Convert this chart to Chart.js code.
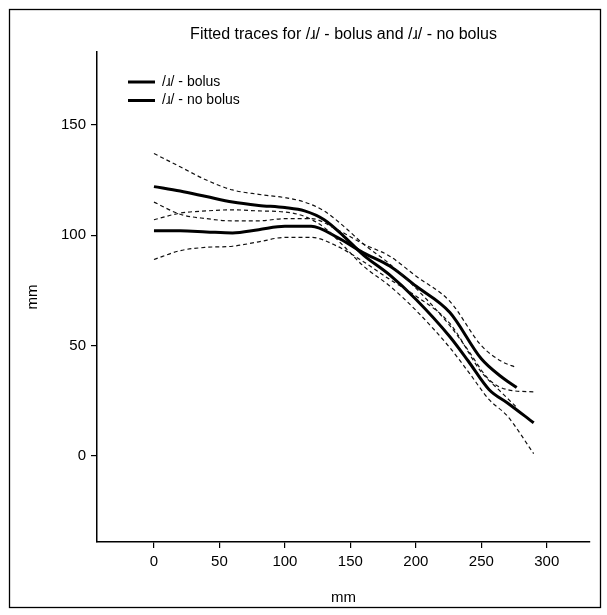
<!DOCTYPE html>
<html>
<head>
<meta charset="utf-8">
<script src="https://cdn.jsdelivr.net/npm/chart.js@4.4.1/dist/chart.umd.min.js"></script>
<style>
  html, body { margin: 0; padding: 0; background: #fff; }
  canvas { display: block; }
</style>
</head>
<body>
<canvas id="traces" width="607" height="615"></canvas>
<script>
// fitted traces (mm)
const xBolus = [0, 20, 40, 60, 80, 100, 115, 130, 145, 160, 180, 200, 226, 240, 256, 270, 290];
const bolusFit = [122, 120, 117.5, 115, 113.5, 112.5, 111, 107, 99.5, 91, 82, 71, 54, 43, 30, 24, 15];
const bolusUpper = [137, 131, 125, 120.5, 118.5, 117, 115, 111, 104, 96, 87, 76, 59, 47.8, 34.5, 30, 29];
const bolusLower = [107, 110, 111, 111.5, 111, 110.5, 108.5, 103.5, 95, 86, 77, 66, 49, 38.2, 25.5, 18, 1];

const xNoBolus = [0, 20, 40, 60, 80, 100, 120, 140, 160, 180, 200, 226, 250, 265, 277];
const noBolusFit = [102, 102, 101.5, 101, 102.5, 104, 104, 99, 92, 86, 77, 65, 44, 36, 31];
const noBolusUpper = [115, 109.5, 107.5, 106.5, 106.5, 107.5, 107.5, 102.5, 96, 90.5, 81.5, 70, 50, 43, 40];
const noBolusLower = [89, 93, 94.5, 95, 97, 99, 99, 95, 88, 80, 72.5, 60, 38, 29, 22];

const xTickValues = [0, 50, 100, 150, 200, 250, 300];
const yTickValues = [0, 50, 100, 150];

const seriesNames = ['/\u0279/ - bolus', '/\u0279/ - no bolus'];
const chartTitle = 'Fitted traces for /\u0279/ - bolus and /\u0279/ - no bolus';

const FONT = '"Liberation Sans", Arial, "DejaVu Sans", sans-serif';

function toPoints(xs, ys) {
    return xs.map((x, i) => ({ x: x, y: ys[i] }));
}

function bandSet(xs, ys) {
    return {
        data: toPoints(xs, ys),
        borderColor: '#111',
        borderWidth: 1.2,
        borderDash: [4, 3],
        pointRadius: 0,
        cubicInterpolationMode: 'monotone',
        fill: false
    };
}

function fitSet(label, xs, ys) {
    return {
        label: label,
        data: toPoints(xs, ys),
        borderColor: '#000',
        borderWidth: 3,
        pointRadius: 0,
        cubicInterpolationMode: 'monotone',
        fill: false
    };
}

// white page with the thin outer frame
const framePlugin = {
    id: 'frame',
    beforeDraw(chart) {
        const ctx = chart.ctx;
        ctx.save();
        ctx.fillStyle = '#fff';
        ctx.fillRect(0, 0, chart.width, chart.height);
        ctx.strokeStyle = '#000';
        ctx.lineWidth = 1.3;
        ctx.strokeRect(9.5, 9.5, 591, 598);
        ctx.restore();
    }
};

// legend sits inside the plot, top left
const innerLegend = {
    id: 'innerLegend',
    afterDraw(chart) {
        const ctx = chart.ctx;
        ctx.save();
        ctx.strokeStyle = '#000';
        ctx.lineWidth = 3;
        ctx.fillStyle = '#000';
        ctx.font = '14px ' + FONT;
        ctx.textBaseline = 'middle';
        seriesNames.forEach((name, i) => {
            const y = 82 + i * 18.5;
            ctx.beginPath();
            ctx.moveTo(128, y);
            ctx.lineTo(155, y);
            ctx.stroke();
            ctx.fillText(name, 162, y);
        });
        ctx.restore();
    }
};

new Chart(document.getElementById('traces'), {
    type: 'line',
    data: {
        datasets: [
            bandSet(xBolus, bolusUpper),
            bandSet(xBolus, bolusLower),
            bandSet(xNoBolus, noBolusUpper),
            bandSet(xNoBolus, noBolusLower),
            fitSet(seriesNames[0], xBolus, bolusFit),
            fitSet(seriesNames[1], xNoBolus, noBolusFit)
        ]
    },
    options: {
        responsive: false,
        animation: false,
        devicePixelRatio: 1,
        layout: { padding: { left: 24, right: 17, top: 0, bottom: 7 } },
        plugins: {
            legend: { display: false },
            tooltip: { enabled: false },
            title: {
                display: true,
                text: chartTitle,
                fullSize: false,
                color: '#000',
                font: { family: FONT, size: 16, weight: 'normal' },
                padding: { top: 25.4, bottom: 7.4 }
            }
        },
        scales: {
            x: {
                type: 'linear',
                min: -43.5,
                max: 333,
                afterBuildTicks: (scale) => { scale.ticks = xTickValues.map(v => ({ value: v })); },
                afterFit: (scale) => { scale.height = 66; },
                border: { display: true, color: '#000', width: 1.5 },
                grid: { drawOnChartArea: false, drawTicks: true, tickLength: 6, color: '#000', lineWidth: 1.2 },
                ticks: { color: '#000', padding: 5, font: { family: FONT, size: 15 }, maxRotation: 0 },
                title: {
                    display: true,
                    text: 'mm',
                    color: '#000',
                    font: { family: FONT, size: 15 },
                    padding: { top: 0, bottom: 1.6 }
                }
            },
            y: {
                type: 'linear',
                min: -39,
                max: 183,
                afterBuildTicks: (scale) => { scale.ticks = yTickValues.map(v => ({ value: v })); },
                afterFit: (scale) => { scale.width = 73; },
                border: { display: true, color: '#000', width: 1.5 },
                grid: { drawOnChartArea: false, drawTicks: true, tickLength: 6, color: '#000', lineWidth: 1.2 },
                ticks: { color: '#000', padding: 5, font: { family: FONT, size: 15 } },
                title: {
                    display: true,
                    text: 'mm',
                    color: '#000',
                    font: { family: FONT, size: 15 },
                    padding: { top: 0, bottom: 0 }
                }
            }
        }
    },
    plugins: [framePlugin, innerLegend]
});
</script>
</body>
</html>
